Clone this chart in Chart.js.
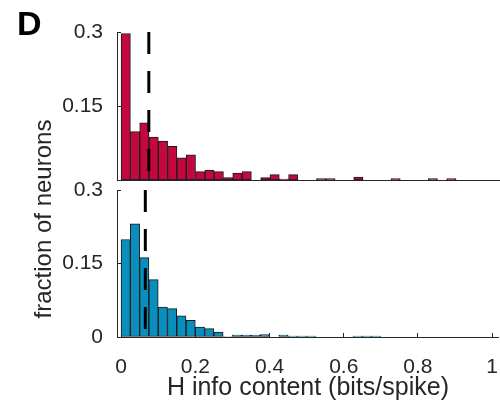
<!DOCTYPE html>
<html>
<head>
	<meta charset="utf-8">
	<title>H info content</title>
	<script src="https://cdn.jsdelivr.net/npm/chart.js"></script>
	<style>
		html, body { margin: 0; padding: 0; background: #fff; overflow: hidden; }
		.lienzo { position: relative; width: 500px; height: 404px; font-family: "Liberation Sans", Arial, sans-serif; color: #262626; }
		.lienzo canvas { position: absolute; left: 0; top: 0; }
		#letra { position: absolute; left: 17px; top: 4px; font-size: 34px; font-weight: bold; color: #000; }
		#ytitulo { position: absolute; left: 43px; top: 219px; font-size: 24px; white-space: nowrap;
			transform: translate(-50%, -50%) rotate(-90deg); }
	</style>
</head>
<body>
<div class="lienzo">
	<canvas id="abajo" width="500" height="404"></canvas>
	<canvas id="arriba" width="500" height="404"></canvas>
	<div id="letra">D</div>
	<div id="ytitulo">fraction of neurons</div>
</div>

<script>
	// centros de los bins (ancho 0.025)
	const binCentros = [
		0.0125, 0.0375, 0.0625, 0.0875, 0.1125, 0.1375, 0.1625, 0.1875, 0.2125, 0.2375,
		0.2625, 0.2875, 0.3125, 0.3375, 0.3625, 0.3875, 0.4125, 0.4375, 0.4625, 0.4875,
		0.5125, 0.5375, 0.5625, 0.5875, 0.6125, 0.6375, 0.6625, 0.6875, 0.7125, 0.7375,
		0.7625, 0.7875, 0.8125, 0.8375, 0.8625, 0.8875, 0.9125, 0.9375, 0.9625, 0.9875
	];

	// panel de arriba (rojo)
	const fraccionArriba = [
		0.297, 0.098, 0.116, 0.087, 0.079, 0.068, 0.045, 0.051, 0.017, 0.020,
		0.017, 0.005, 0.014, 0.017, 0, 0.005, 0.011, 0.002, 0.011, 0,
		0, 0.003, 0.003, 0, 0, 0.006, 0, 0, 0, 0.003,
		0, 0, 0, 0.003, 0, 0.003, 0, 0, 0, 0
	];

	// panel de abajo (azul)
	const fraccionAbajo = [
		0.199, 0.231, 0.162, 0.117, 0.061, 0.058, 0.043, 0.034, 0.020, 0.017,
		0.010, 0.001, 0.004, 0.004, 0.004, 0.005, 0, 0.004, 0.002, 0.002,
		0.002, 0, 0, 0, 0, 0.002, 0.002, 0.002, 0, 0,
		0, 0, 0, 0, 0, 0, 0, 0, 0, 0
	];

	// lineas punteadas (media)
	const mediaArriba = 0.0745;
	const mediaAbajo = 0.0653;

	const yTicksArriba = [0.15, 0.3];
	const yTicksAbajo = [0, 0.15, 0.3];
	const yTickLabels = { 0: '0', 0.15: '0.15', 0.3: '0.3' };
	const xTicks = [0, 0.2, 0.4, 0.6, 0.8, 1];
	const xTickLabels = ['0', '0.2', '0.4', '0.6', '0.8', '1'];

	const fuente = '"Liberation Sans", Arial, sans-serif';
	const colorEje = '#262626';
	Chart.defaults.font.family = fuente;
	Chart.defaults.color = colorEje;

	function crearPanel(id, valores, color, media, yTicks, conEjeX) {
		const barras = binCentros.map((x, i) => ({ x: x, y: valores[i] }));
		return new Chart(document.getElementById(id), {
			data: {
				datasets: [
					{
						type: 'line',
						data: [{ x: media, y: 0.3 }, { x: media, y: 0 }],
						borderColor: '#000',
						borderWidth: 3,
						borderDash: [22, 17],
						pointRadius: 0,
						order: 0
					},
					{
						type: 'bar',
						data: barras,
						backgroundColor: color,
						borderColor: '#1a1a1a',
						borderWidth: 1,
						borderSkipped: false,
						barPercentage: 1,
						categoryPercentage: 1,
						order: 1
					}
				]
			},
			options: {
				responsive: false,
				animation: false,
				events: [],
				layout: { padding: { top: conEjeX ? 190 : 32, bottom: conEjeX ? 0 : 224, left: 0, right: 0 } },
				plugins: { legend: { display: false }, tooltip: { enabled: false } },
				scales: {
					x: {
						type: 'linear',
						min: -0.011,
						max: 1.018,
						offset: false,
						afterBuildTicks: s => { s.ticks = xTicks.map(v => ({ value: v })); },
						afterFit: s => { s.height = conEjeX ? 67 : 0; },
						grid: { display: conEjeX, offset: false, drawOnChartArea: false, tickLength: -4, color: colorEje },
						border: { display: true, color: colorEje, width: 1 },
						ticks: {
							display: conEjeX,
							autoSkip: false,
							maxRotation: 0,
							padding: 2,
							// interlineado alto para bajar las etiquetas sin recortar el area
							font: { size: 21, lineHeight: 3.05 },
							callback: v => xTickLabels[xTicks.indexOf(v)]
						},
						title: {
							display: conEjeX,
							text: 'H info content (bits/spike)',
							font: { size: 25 },
							padding: { top: 0, bottom: 1 }
						}
					},
					y: {
						min: 0,
						max: 0.3,
						afterBuildTicks: s => { s.ticks = yTicks.map(v => ({ value: v })); },
						afterFit: s => { s.width = 117; },
						grid: { drawOnChartArea: false, tickLength: -4, color: colorEje },
						border: { display: true, color: colorEje, width: 1 },
						ticks: {
							padding: 18,
							font: { size: 21 },
							callback: v => yTickLabels[v]
						}
					}
				}
			}
		});
	}

	crearPanel('arriba', fraccionArriba, '#c3073f', mediaArriba, yTicksArriba, false);
	crearPanel('abajo', fraccionAbajo, '#0a8ebd', mediaAbajo, yTicksAbajo, true);
</script>
</body>
</html>
